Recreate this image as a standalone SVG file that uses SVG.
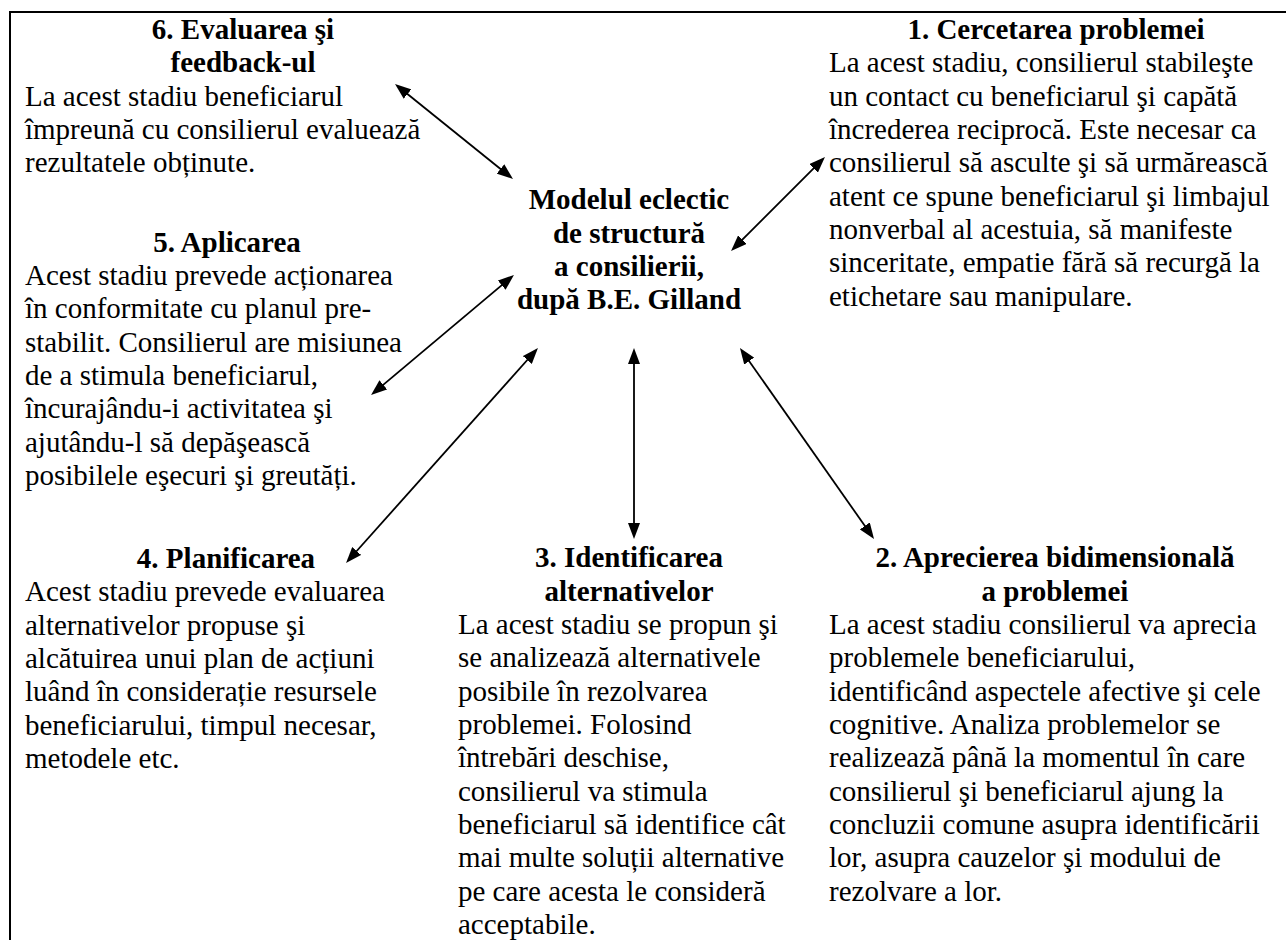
<svg xmlns="http://www.w3.org/2000/svg" width="1286" height="940" viewBox="0 0 1286 940">
<style>
text{font-family:"Liberation Serif","Times New Roman",serif;font-size:29px;fill:#000}
.h{font-weight:bold;text-anchor:middle}
.c{stroke:#000;stroke-width:1.8;fill:none}
</style>
<defs>
<marker id="ah" markerUnits="userSpaceOnUse" markerWidth="16" markerHeight="12" refX="6" refY="6" orient="auto-start-reverse" viewBox="0 0 16 12">
<path d="M0,0 L16,6 L0,12 z" fill="#000"/>
</marker>
</defs>
<rect width="1286" height="940" fill="#fff"/>
<g id="frame"><path d="M10,940 L10,12 L1286,12" stroke="#000" stroke-width="2" fill="none"/></g>
<g id="connectors">
<line class="c" x1="402.8" y1="90.3" x2="505.2" y2="172.7" marker-start="url(#ah)" marker-end="url(#ah)"/>
<line class="c" x1="817.9" y1="164.1" x2="738.1" y2="243.9" marker-start="url(#ah)" marker-end="url(#ah)"/>
<line class="c" x1="506.3" y1="281.4" x2="378.7" y2="388.6" marker-start="url(#ah)" marker-end="url(#ah)"/>
<line class="c" x1="531.3" y1="355.5" x2="352.7" y2="555.5" marker-start="url(#ah)" marker-end="url(#ah)"/>
<line class="c" x1="634" y1="358" x2="634" y2="529" marker-start="url(#ah)" marker-end="url(#ah)"/>
<line class="c" x1="745.7" y1="356.2" x2="868.3" y2="530.8" marker-start="url(#ah)" marker-end="url(#ah)"/>
</g>
<g id="center">
<text class="h"><tspan x="629" y="209.3">Modelul eclectic</tspan><tspan x="629" y="242.7">de structură</tspan><tspan x="629" y="276">a consilierii,</tspan><tspan x="629" y="309.3">după B.E. Gilland</tspan></text>
</g>
<g id="stage6">
<text class="h"><tspan x="243" y="39">6. Evaluarea şi</tspan><tspan x="243" y="72.3">feedback-ul</tspan></text>
<text><tspan x="25" y="105.7">La acest stadiu beneficiarul</tspan><tspan x="25" y="139">împreună cu consilierul evaluează</tspan><tspan x="25" y="172.3">rezultatele obținute.</tspan></text>
</g>
<g id="stage1">
<text class="h"><tspan x="1056" y="39">1. Cercetarea problemei</tspan></text>
<text><tspan x="829" y="72.3">La acest stadiu, consilierul stabileşte</tspan><tspan x="829" y="105.7">un contact cu beneficiarul şi capătă</tspan><tspan x="829" y="139">încrederea reciprocă. Este necesar ca</tspan><tspan x="829" y="172.3">consilierul să asculte şi să urmărească</tspan><tspan x="829" y="205.7">atent ce spune beneficiarul şi limbajul</tspan><tspan x="829" y="239">nonverbal al acestuia, să manifeste</tspan><tspan x="829" y="272.3">sinceritate, empatie fără să recurgă la</tspan><tspan x="829" y="305.7">etichetare sau manipulare.</tspan></text>
</g>
<g id="stage5">
<text class="h"><tspan x="227" y="251.7">5. Aplicarea</tspan></text>
<text><tspan x="25" y="285">Acest stadiu prevede acționarea</tspan><tspan x="25" y="318.3">în conformitate cu planul pre-</tspan><tspan x="25" y="351.7">stabilit. Consilierul are misiunea</tspan><tspan x="25" y="385">de a stimula beneficiarul,</tspan><tspan x="25" y="418.3">încurajându-i activitatea şi</tspan><tspan x="25" y="451.7">ajutându-l să depăşească</tspan><tspan x="25" y="485">posibilele eşecuri şi greutăți.</tspan></text>
</g>
<g id="stage4">
<text class="h"><tspan x="226" y="568">4. Planificarea</tspan></text>
<text><tspan x="25" y="601.3">Acest stadiu prevede evaluarea</tspan><tspan x="25" y="634.7">alternativelor propuse şi</tspan><tspan x="25" y="668">alcătuirea unui plan de acțiuni</tspan><tspan x="25" y="701.3">luând în considerație resursele</tspan><tspan x="25" y="734.7">beneficiarului, timpul necesar,</tspan><tspan x="25" y="768">metodele etc.</tspan></text>
</g>
<g id="stage3">
<text class="h"><tspan x="629" y="567.3">3. Identificarea</tspan><tspan x="629" y="600.7">alternativelor</tspan></text>
<text><tspan x="458" y="634">La acest stadiu se propun şi</tspan><tspan x="458" y="667.3">se analizează alternativele</tspan><tspan x="458" y="700.7">posibile în rezolvarea</tspan><tspan x="458" y="734">problemei. Folosind</tspan><tspan x="458" y="767.3">întrebări deschise,</tspan><tspan x="458" y="800.7">consilierul va stimula</tspan><tspan x="458" y="834">beneficiarul să identifice cât</tspan><tspan x="458" y="867.3">mai multe soluții alternative</tspan><tspan x="458" y="900.7">pe care acesta le consideră</tspan><tspan x="458" y="934">acceptabile.</tspan></text>
</g>
<g id="stage2">
<text class="h"><tspan x="1055" y="567.3">2. Aprecierea bidimensională</tspan><tspan x="1055" y="600.7">a problemei</tspan></text>
<text><tspan x="829" y="634">La acest stadiu consilierul va aprecia</tspan><tspan x="829" y="667.3">problemele beneficiarului,</tspan><tspan x="829" y="700.7">identificând aspectele afective şi cele</tspan><tspan x="829" y="734">cognitive. Analiza problemelor se</tspan><tspan x="829" y="767.3">realizează până la momentul în care</tspan><tspan x="829" y="800.7">consilierul şi beneficiarul ajung la</tspan><tspan x="829" y="834">concluzii comune asupra identificării</tspan><tspan x="829" y="867.3">lor, asupra cauzelor şi modului de</tspan><tspan x="829" y="900.7">rezolvare a lor.</tspan></text>
</g>
</svg>
